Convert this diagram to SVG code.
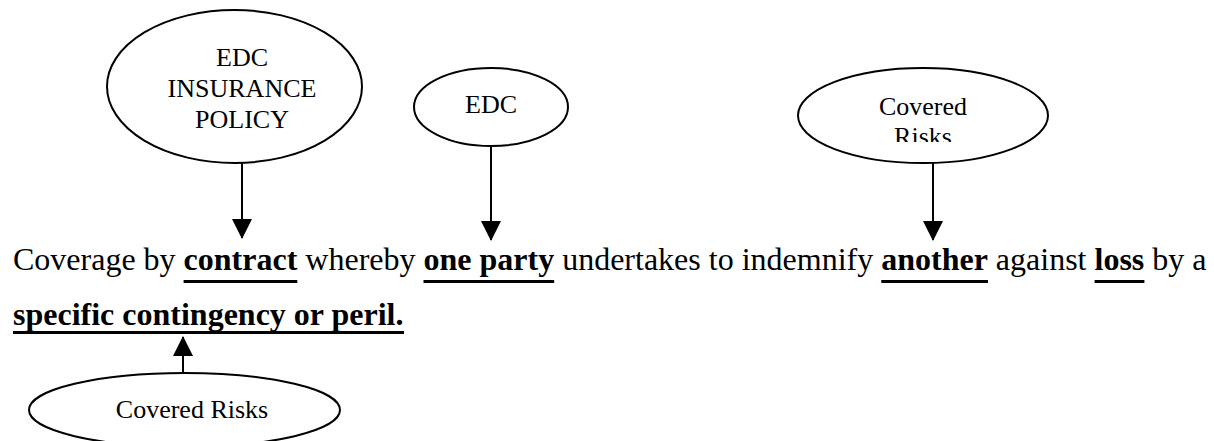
<svg xmlns="http://www.w3.org/2000/svg" width="1214" height="441" viewBox="0 0 1214 441">
  <style>
    .node { fill: #ffffff; stroke: #000000; stroke-width: 2; }
    .lbl { font-family: "Liberation Serif", "Times New Roman", serif; font-size: 26px; fill: #000000; text-anchor: middle; }
    .body { font-family: "Liberation Serif", "Times New Roman", serif; font-size: 32px; fill: #000000; }
    .b { font-weight: bold; }
    .ul { fill: #000000; }
    .conn { stroke: #000000; stroke-width: 2; fill: none; marker-end: url(#arrow); }
  </style>
  <defs>
    <marker id="arrow" markerUnits="userSpaceOnUse" markerWidth="20" markerHeight="20" refX="19" refY="10" orient="auto" viewBox="0 0 20 20">
      <path d="M0,0 L20,10 L0,20 Z" fill="#000000"/>
    </marker>
    <clipPath id="clipRisks">
      <rect x="790" y="60" width="270" height="82"/>
    </clipPath>
  </defs>
  <rect width="1214" height="441" fill="#ffffff"/>

  <g id="node-edc-insurance-policy">
    <ellipse class="node" cx="234.5" cy="86.5" rx="127.5" ry="76.5"/>
    <text class="lbl" x="242" y="66">EDC</text>
    <text class="lbl" x="242" y="97">INSURANCE</text>
    <text class="lbl" x="242" y="128">POLICY</text>
  </g>

  <g id="node-edc">
    <ellipse class="node" cx="491" cy="107" rx="77" ry="39"/>
    <text class="lbl" x="491" y="113">EDC</text>
  </g>

  <g id="node-covered-risks-top">
    <ellipse class="node" cx="923" cy="115.5" rx="125" ry="47.5"/>
    <g clip-path="url(#clipRisks)">
      <text class="lbl" x="923" y="115">Covered</text>
      <text class="lbl" x="923" y="145">Risks</text>
    </g>
  </g>

  <g id="node-covered-risks-bottom">
    <ellipse class="node" cx="184.5" cy="410" rx="155.5" ry="37"/>
    <text class="lbl" x="192" y="418">Covered Risks</text>
  </g>

  <g id="node-definition">
    <text class="body" x="13" y="270">Coverage by <tspan class="b">contract</tspan> whereby <tspan class="b">one party</tspan> undertakes to indemnify <tspan class="b">another</tspan> against <tspan class="b">loss</tspan> by a</text>
    <rect class="ul" x="183.6" y="280" width="113.7" height="3"/>
    <rect class="ul" x="423.5" y="280" width="130.7" height="3"/>
    <rect class="ul" x="881.3" y="280" width="106.7" height="3"/>
    <rect class="ul" x="1094.6" y="280" width="49.8" height="3"/>
    <text class="body b" x="13" y="325">specific contingency or peril.</text>
    <rect class="ul" x="13" y="331" width="391" height="3"/>
  </g>

  <g id="connectors">
    <line class="conn" x1="242" y1="163" x2="242" y2="238"/>
    <line class="conn" x1="491" y1="146" x2="491" y2="240"/>
    <line class="conn" x1="933" y1="163" x2="933" y2="240"/>
    <line class="conn" x1="183" y1="373" x2="183" y2="337"/>
  </g>
</svg>
